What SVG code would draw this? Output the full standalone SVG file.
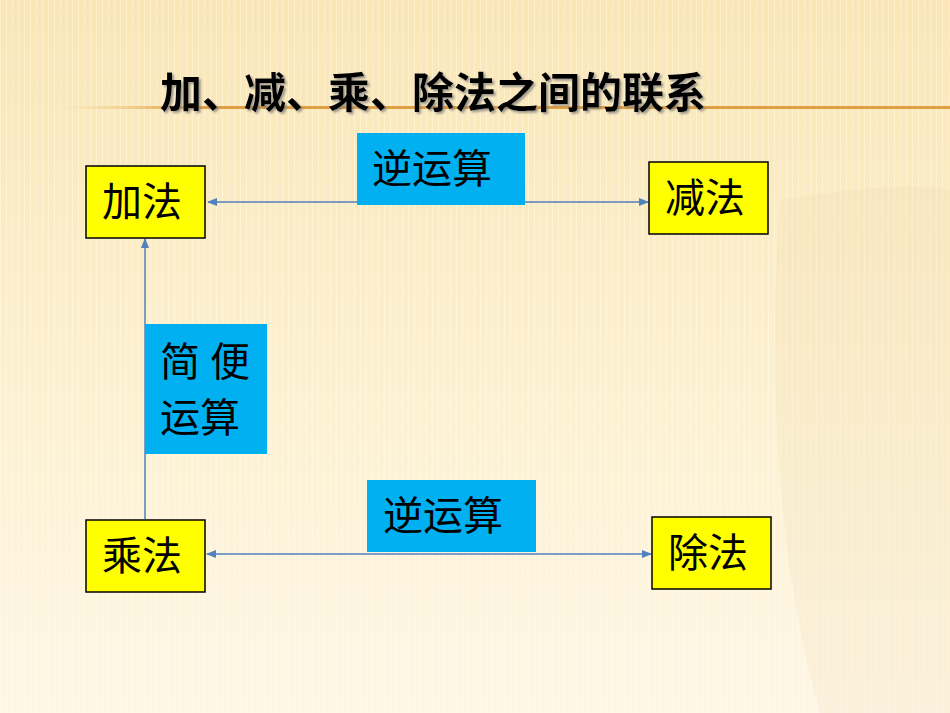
<svg xmlns="http://www.w3.org/2000/svg" width="950" height="713" viewBox="0 0 950 713">
<defs>
<linearGradient id="bg" x1="0" y1="0" x2="0" y2="1"><stop offset="0" stop-color="#fbe6b4"/><stop offset="0.5" stop-color="#fdf0cc"/><stop offset="1" stop-color="#fef7e4"/></linearGradient>
<linearGradient id="ln" x1="0" y1="0" x2="1" y2="0"><stop offset="0" stop-color="#f3c777" stop-opacity="0"/><stop offset="0.15" stop-color="#e0a044"/><stop offset="1" stop-color="#e0a044"/></linearGradient>
<pattern id="st" width="6" height="10" patternUnits="userSpaceOnUse"><rect width="1" height="10" fill="#ffffff" opacity="0.35"/></pattern>
<marker id="ah" viewBox="0 0 10 10" refX="9" refY="5" markerWidth="7" markerHeight="7" orient="auto-start-reverse"><path d="M0,1 L10,5 L0,9 z" fill="#4f81bd"/></marker>
<filter id="sh" x="-5%" y="-20%" width="110%" height="150%"><feDropShadow dx="2" dy="2" stdDeviation="1" flood-color="#777" flood-opacity="0.7"/></filter>
</defs>
<style>
.n{fill:#ffff00;stroke:#000;stroke-width:1.5}
.b{fill:#00b0f0}
.t{font-family:"Liberation Serif","Noto Sans CJK SC",serif;font-size:40px;fill:#000}
.c{stroke:#4f81bd;stroke-width:1.5;fill:none;marker-end:url(#ah)}
</style>
<rect width="950" height="713" fill="url(#bg)"/>
<rect width="950" height="713" fill="url(#st)"/>
<path d="M780 200 Q900 180 950 190 L950 713 L820 713 Q760 500 780 200z" fill="#e8d2a0" opacity="0.15"/>
<rect x="60" y="106" width="890" height="3" fill="url(#ln)"/>
<text x="160" y="108" font-family="'Noto Sans CJK SC',sans-serif" font-weight="bold" font-size="42" fill="#000" filter="url(#sh)">加、减、乘、除法之间的联系</text>
<g id="connectors">
<line class="c" x1="357" y1="202" x2="208" y2="202"/>
<line class="c" x1="525" y1="202" x2="648" y2="202"/>
<line class="c" x1="145" y1="519" x2="145" y2="239"/>
<line class="c" x1="330" y1="554" x2="207" y2="554" />
<line class="c" x1="330" y1="554" x2="651" y2="554"/>
</g>
<g id="jiafa"><rect class="n" x="86" y="166" width="119" height="72"/><text class="t" x="102" y="216">加法</text></g>
<g id="jianfa"><rect class="n" x="649" y="162" width="119" height="72"/><text class="t" x="665" y="212">减法</text></g>
<g id="chengfa"><rect class="n" x="86" y="520" width="119" height="72"/><text class="t" x="102" y="570">乘法</text></g>
<g id="chufa"><rect class="n" x="652" y="517" width="119" height="72"/><text class="t" x="668" y="567">除法</text></g>
<g id="ni1"><rect class="b" x="357" y="133" width="168" height="72"/><text class="t" x="372" y="183">逆运算</text></g>
<g id="ni2"><rect class="b" x="367" y="480" width="169" height="72"/><text class="t" x="383" y="530">逆运算</text></g>
<g id="jb"><rect class="b" x="145" y="324" width="122" height="130"/><text class="t" x="160" y="376">简 便</text><text class="t" x="160" y="432">运算</text></g>
</svg>
